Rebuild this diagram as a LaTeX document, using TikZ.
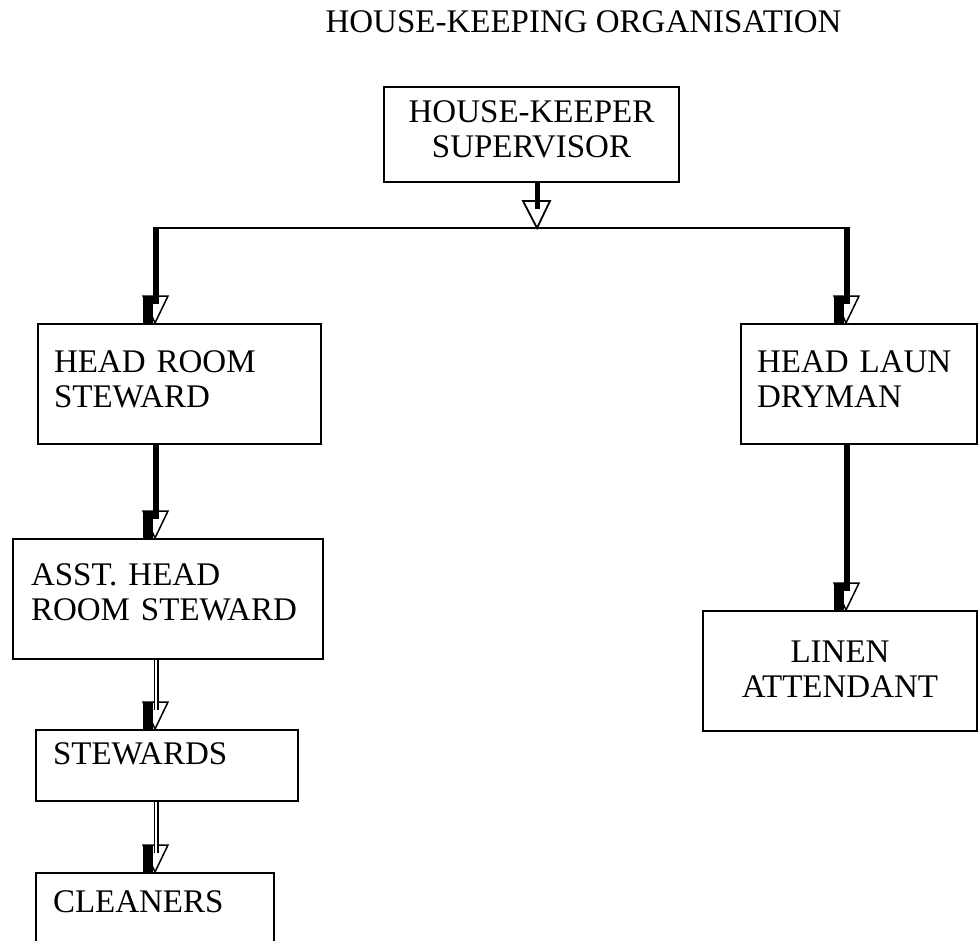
\documentclass[tikz,border=0pt]{standalone}
\usepackage{fontspec}
\setmainfont{Liberation Serif}
\tikzset{
  pics/droptip/.style={code={
    \draw[line width=1.5pt, line join=miter, fill=white] (-13,-27) -- (12,-27) -- (-1,0) -- cycle;
    \fill (-13,-27) rectangle (-3,0);
  }},
  pics/opentip/.style={code={
    \draw[line width=1.8pt, line join=miter, fill=white] (-14,-27) -- (13,-27) -- (0,0) -- cycle;
  }}
}
\begin{document}
\begin{tikzpicture}[x=1pt,y=-1pt,
  every node/.style={font=\fontsize{33}{35}\selectfont},
  box/.style={draw, line width=2pt, anchor=north west, inner ysep=0pt, align=left},
  thickstem/.style={line width=6pt, shorten >=19pt},
  dblstem/.style={double, double distance=2.4pt, line width=1.3pt, shorten >=19pt},
  hline/.style={line width=2.5pt}]
\useasboundingbox (0,0) rectangle (979,940);
\clip (0,0) rectangle (979,940);

\node[anchor=base west] (title) at (322,32) {HOUSE-KEEPING ORGANISATION};

\node[box, align=center, minimum width=295pt, minimum height=95pt, text width=295pt, inner xsep=0pt, text depth=45pt] (sup) at (383,86) {HOUSE-KEEPER\\SUPERVISOR};
\node[box, minimum width=283pt, minimum height=120pt, text width=251pt, inner xsep=16pt, text depth=44pt] (hrs) at (37,323) {HEAD ROOM\\STEWARD};
\node[box, minimum width=236pt, minimum height=120pt, text width=204pt, inner xsep=16pt, text depth=44pt] (hld) at (740,323) {HEAD LAUN\\DRYMAN};
\node[box, minimum width=310pt, minimum height=120pt, text width=274pt, inner xsep=18pt, text depth=48pt] (asst) at (12,538) {ASST. HEAD\\ROOM STEWARD};
\node[box, align=center, minimum width=274pt, minimum height=120pt, text width=274pt, inner xsep=0pt, text depth=38pt] (linen) at (702,610) {LINEN\\ATTENDANT};
\node[box, minimum width=262pt, minimum height=71pt, text width=228pt, inner xsep=17pt, text depth=24pt] (stew) at (35,729) {STEWARDS};
\node[box, minimum width=238pt, minimum height=90pt, text width=204pt, inner xsep=17pt, text depth=32pt] (clean) at (35,872) {CLEANERS};

\coordinate (jc) at (537,228);
\coordinate (jl) at (156,228);
\coordinate (jr) at (847,228);

\draw[hline] (jl) -- (jr);
\pic at (jc) {opentip};
\draw[line width=5pt] (sup.south -| jc) -- ++(0,26);

\pic at (jl |- hrs.north) {droptip};
\draw[thickstem] ([yshift=1.25pt]jl) -- (jl |- hrs.north);
\pic at (jr |- hld.north) {droptip};
\draw[thickstem] ([yshift=1.25pt]jr) -- (jr |- hld.north);

\pic at (jl |- asst.north) {droptip};
\draw[thickstem] (hrs.south -| jl) -- (jl |- asst.north);
\pic at (jr |- linen.north) {droptip};
\draw[thickstem] (hld.south -| jr) -- (jr |- linen.north);

\pic at (jl |- stew.north) {droptip};
\draw[dblstem] (asst.south -| jl) -- (jl |- stew.north);
\pic at (jl |- clean.north) {droptip};
\draw[dblstem] (stew.south -| jl) -- (jl |- clean.north);
\end{tikzpicture}
\end{document}
